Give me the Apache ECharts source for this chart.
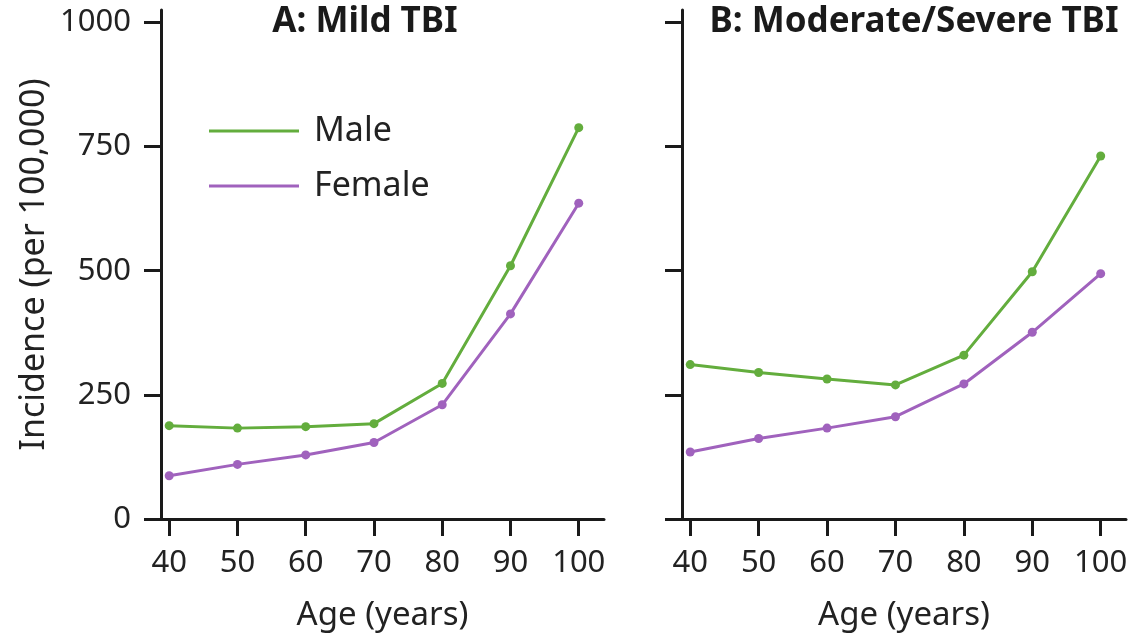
<!DOCTYPE html>
<html>
<head>
	<meta charset="utf-8">
	<title>TBI incidence</title>
	<script type="text/javascript" src="https://cdn.jsdelivr.net/npm/echarts@6/dist/echarts.min.js"></script>
</head>
<body style="margin:0;background:#fff;">
	<div id="main" style="width: 1138px;height:640px;"></div>
	<script type="text/javascript">
		var ages = [40, 50, 60, 70, 80, 90, 100];
		var yTicks = [0, 250, 500, 750, 1000];
		var mildMale = [188, 183, 186, 192, 273, 510, 788];
		var mildFemale = [87, 110, 129, 154, 230, 413, 636];
		var severeMale = [311, 295, 282, 270, 330, 498, 731];
		var severeFemale = [135, 162, 183, 206, 272, 376, 494];

		const GREEN = '#63ad3d';
		const PURPLE = '#a062bd';
		const FONT = 'Noto Sans';

		function pairs(vals) {
			return ages.map(function (a, i) { return [a, vals[i]]; });
		}

		function xAxis(idx) {
			return {
				type: 'value', gridIndex: idx, min: 38.8, max: 103.7,
				name: 'Age (years)', nameLocation: 'middle', nameGap: 80,
				nameTextStyle: { fontFamily: FONT, fontSize: 33, color: '#222' },
				splitLine: { show: false },
				axisLine: { lineStyle: { color: '#1a1a1a', width: 3 } },
				axisTick: { customValues: ages, length: 17, lineStyle: { color: '#1a1a1a', width: 3 } },
				axisLabel: { customValues: ages, margin: 29, fontFamily: FONT, fontSize: 31, color: '#222' }
			};
		}

		function yAxis(idx, showLabels) {
			return {
				type: 'value', gridIndex: idx, min: 0, max: 1025,
				name: showLabels ? 'Incidence (per 100,000)' : '',
				nameLocation: 'middle', nameGap: 110,
				nameTextStyle: { fontFamily: FONT, fontSize: 34, color: '#222' },
				splitLine: { show: false },
				axisLine: { show: true, lineStyle: { color: '#1a1a1a', width: 3 } },
				axisTick: { show: true, customValues: yTicks, length: 17, lineStyle: { color: '#1a1a1a', width: 3 } },
				axisLabel: {
					show: showLabels, customValues: yTicks, margin: 30,
					formatter: function (v) { return String(v); },
					fontFamily: FONT, fontSize: 31, color: '#222'
				}
			};
		}

		function line(name, color, idx, vals) {
			return {
				name: name, type: 'line', xAxisIndex: idx, yAxisIndex: idx,
				data: pairs(vals), symbol: 'circle', symbolSize: 9,
				lineStyle: { color: color, width: 3 },
				itemStyle: { color: color }
			};
		}

		var myChart = echarts.init(document.getElementById('main'));

		var option = {
			animation: false,
			title: [
				{ text: 'A: Mild TBI', left: 360, top: 0, textAlign: 'center',
				  textStyle: { fontFamily: FONT, fontSize: 35, fontWeight: 'bold', color: '#1a1a1a' } },
				{ text: 'B: Moderate/Severe TBI', left: 909, top: 0, textAlign: 'center',
				  textStyle: { fontFamily: FONT, fontSize: 35, fontWeight: 'bold', color: '#1a1a1a' } }
			],
			legend: {
				orient: 'vertical', left: 204, top: 108,
				itemWidth: 90, itemHeight: 3, itemGap: 19, icon: 'rect',
				textStyle: { fontFamily: FONT, fontSize: 34, color: '#222', lineHeight: 36, padding: [0, 0, 0, 10] },
				data: ['Male', 'Female']
			},
			grid: [
				{ left: 161, top: 10, width: 443, height: 509 },
				{ left: 682, top: 10, width: 444, height: 509 }
			],
			xAxis: [xAxis(0), xAxis(1)],
			yAxis: [yAxis(0, true), yAxis(1, false)],
			series: [
				line('Male', GREEN, 0, mildMale),
				line('Female', PURPLE, 0, mildFemale),
				line('Male', GREEN, 1, severeMale),
				line('Female', PURPLE, 1, severeFemale)
			]
		};

		myChart.setOption(option);
	</script>
</body>
</html>
